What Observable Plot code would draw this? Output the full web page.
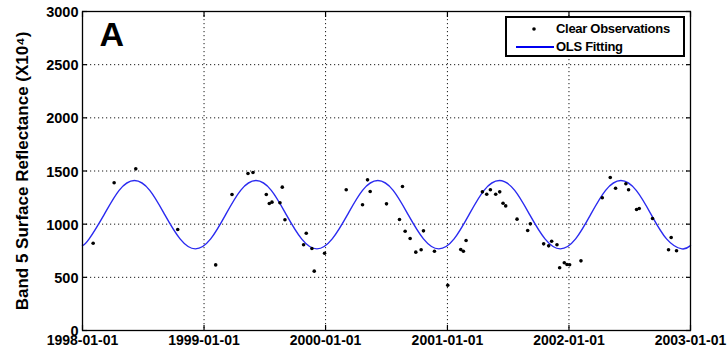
<!DOCTYPE html>
<html><head><meta charset="utf-8">
<script src="https://cdn.jsdelivr.net/npm/d3@7"></script>
<script src="https://cdn.jsdelivr.net/npm/@observablehq/plot@0.6"></script>
<style>
body{margin:0;background:#fff;}
#wrap{position:relative;width:727px;height:353px;font-family:"Liberation Sans",Arial,Helvetica,sans-serif;}
#legend{position:absolute;left:505px;top:16px;width:176px;height:37px;border:2px solid #000;background:#fff;font-weight:bold;font-size:13px;color:#000;}
#legend .row{position:absolute;left:0;height:18px;width:176px;}
#legend .lab{position:absolute;left:49px;top:0;line-height:18px;white-space:nowrap;letter-spacing:-0.3px;}
#legend svg{position:absolute;left:0;top:0;}
</style></head><body><div id="wrap"></div>
<script>
// Clear observations (date, Band 5 surface reflectance x10^4)
const obsDates = [
  "1998-02-02","1998-04-06","1998-06-10","1998-10-14",
  "1999-02-05","1999-03-26","1999-05-13","1999-05-28","1999-07-07","1999-07-16","1999-07-24","1999-08-17","1999-08-24","1999-09-01","1999-10-27","1999-11-04","1999-11-21","1999-11-28","1999-12-29",
  "2000-03-03","2000-04-21","2000-05-06","2000-05-14","2000-07-02","2000-08-10","2000-08-19","2000-08-27","2000-09-11","2000-09-28","2000-10-14","2000-10-21","2000-11-23",
  "2001-01-02","2001-02-10","2001-02-18","2001-02-26","2001-04-16","2001-04-29","2001-05-10","2001-05-26","2001-06-07","2001-06-17","2001-06-25","2001-07-29","2001-08-30","2001-09-07","2001-10-17","2001-11-01","2001-11-10","2001-11-26","2001-12-04","2001-12-18","2001-12-26",
  "2002-01-03","2002-02-06","2002-04-11","2002-05-05","2002-05-21","2002-06-21","2002-06-29","2002-07-23","2002-07-31","2002-09-09","2002-10-27","2002-11-04","2002-11-20"
];
const obsValues = [
  821,1389,1520,950,
  617,1279,1476,1486,1279,1194,1207,1201,1348,1041,806,915,771,558,727,
  1323,1182,1417,1307,1191,1044,1354,934,865,737,759,937,746,
  426,762,746,846,1304,1282,1323,1282,1304,1197,1172,1047,940,1003,815,796,840,806,590,637,621,
  618,655,1248,1439,1338,1380,1323,1138,1147,1053,759,875,750
];
// OLS fitted curve, values at key dates
const fitDates = [
  "1998-01-01","1998-01-21","1998-03-07","1998-04-21","1998-06-06","1998-07-22","1998-09-05","1998-10-21","1998-12-06",
  "1999-01-21","1999-03-07","1999-04-21","1999-06-06","1999-07-22","1999-09-05","1999-10-21","1999-12-06",
  "2000-01-21","2000-03-07","2000-04-21","2000-06-06","2000-07-22","2000-09-05","2000-10-21","2000-12-06",
  "2001-01-21","2001-03-07","2001-04-21","2001-06-06","2001-07-22","2001-09-05","2001-10-21","2001-12-06",
  "2002-01-21","2002-03-07","2002-04-21","2002-06-06","2002-07-22","2002-09-05","2002-10-21","2002-12-06",
  "2003-01-01"
];
const fitValues = [
  798,862,1090,1318,1410,1318,1090,862,768,
  862,1090,1318,1410,1318,1090,862,768,
  862,1090,1318,1410,1318,1090,862,768,
  862,1090,1318,1410,1318,1090,862,768,
  862,1090,1318,1410,1318,1090,862,768,
  798
];
const yTicks = [0,500,1000,1500,2000,2500,3000];
const xTickLabels = ["1998-01-01","1999-01-01","2000-01-01","2001-01-01","2002-01-01","2003-01-01"];
const legendLabels = ["Clear Observations","OLS Fitting"];
const panelLabel = "A";
const yLabel = "Band 5 Surface Reflectance (X10\u2074)";

const parse = d3.utcParse("%Y-%m-%d");
const fmt = d3.utcFormat("%Y-%m-%d");
const obs = obsDates.map((d,i)=>({date:parse(d), value:obsValues[i]}));
const fit = fitDates.map((d,i)=>({date:parse(d), value:fitValues[i]}));
const xTicks = xTickLabels.map(parse);

const gridStyle = {stroke:"#000", strokeOpacity:0.9, strokeWidth:1, strokeDasharray:"1.2,2.8"};

const chart = Plot.plot({
  width:727, height:353,
  marginLeft:82, marginRight:37, marginTop:11, marginBottom:23,
  style:{fontFamily:'"Liberation Sans",Arial,Helvetica,sans-serif', fontWeight:"bold", fontSize:"14px", color:"#000", background:"#fff", overflow:"visible"},
  x:{type:"utc", domain:[xTicks[0], xTicks[xTicks.length-1]]},
  y:{domain:[0,3000]},
  marks:[
    Plot.gridX(xTicks, gridStyle),
    Plot.gridY(yTicks, gridStyle),
    Plot.axisX(xTicks, {anchor:"bottom", tickSize:0, tickPadding:5, tickFormat:fmt, label:null, fontSize:14, fontWeight:"bold"}),
    Plot.axisX(xTicks, {anchor:"bottom", tickSize:-5, tickFormat:()=>"", label:null, strokeWidth:1.2}),
    Plot.axisX(xTicks, {anchor:"top", tickSize:-5, tickFormat:()=>"", label:null, strokeWidth:1.2}),
    Plot.axisY(yTicks, {anchor:"left", tickSize:0, tickPadding:4, dy:1, label:null, tickFormat:d3.format("d"), fontSize:14.5, fontWeight:"bold"}),
    Plot.axisY(yTicks, {anchor:"left", tickSize:-5, tickFormat:()=>"", label:null, strokeWidth:1.2}),
    Plot.axisY(yTicks, {anchor:"right", tickSize:-5, tickFormat:()=>"", label:null, strokeWidth:1.2}),
    Plot.text([yLabel], {frameAnchor:"left", rotate:-90, dx:-60, lineAnchor:"middle", textAnchor:"middle", fontSize:17, fontWeight:"bold", fill:"#000"}),
    Plot.line(fit, {x:"date", y:"value", curve:"natural", stroke:"#2a2af0", strokeWidth:1.4}),
    Plot.dot(obs, {x:"date", y:"value", r:1.8, fill:"#000", stroke:"none"}),
    Plot.text([panelLabel], {frameAnchor:"top-left", dx:17, dy:10, lineAnchor:"top", textAnchor:"start", fontSize:34, fontWeight:"bold", fill:"#000"}),
    Plot.frame({stroke:"#000", strokeWidth:1.3})
  ]
});

const wrap = document.getElementById("wrap");
wrap.appendChild(chart);

// Legend box inside the plot (top right)
const legend = document.createElement("div");
legend.id = "legend";
const swatches = [
  `<svg width="48" height="18"><circle cx="27" cy="9" r="1.8" fill="#000"/></svg>`,
  `<svg width="48" height="18"><line x1="9" x2="47" y1="9" y2="9" stroke="#0000f0" stroke-width="2"/></svg>`
];
legendLabels.forEach((lab,i)=>{
  const row = document.createElement("div");
  row.className = "row";
  row.style.top = (2 + i*18) + "px";
  row.innerHTML = swatches[i] + `<span class="lab">${lab}</span>`;
  legend.appendChild(row);
});
wrap.appendChild(legend);
</script>
</body></html>
